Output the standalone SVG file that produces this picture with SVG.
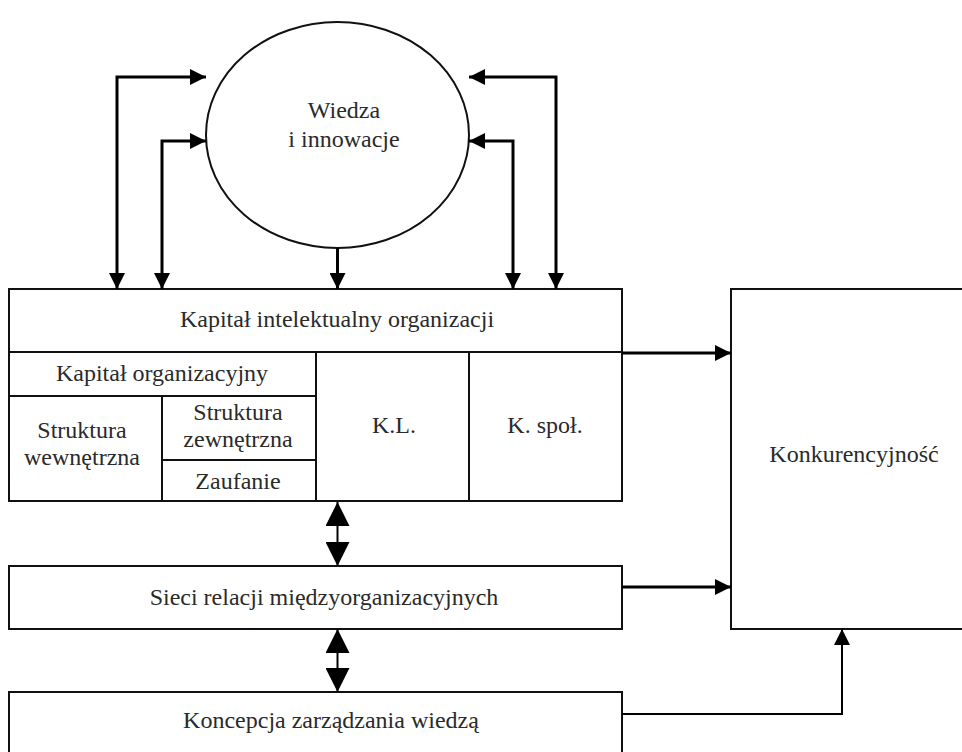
<svg xmlns="http://www.w3.org/2000/svg" width="962" height="752" viewBox="0 0 962 752">
<style>
.box{fill:#fff;stroke:#111;stroke-width:2}
.ln{fill:none;stroke:#111;stroke-width:2}
.t{font-family:"Liberation Serif","Times New Roman",serif;font-size:24px;fill:#2a2a2a;text-anchor:middle}
.c3{fill:none;stroke:#000;stroke-width:3}
.c2{fill:none;stroke:#000;stroke-width:2}
</style>
<defs>
<marker id="a" markerUnits="userSpaceOnUse" markerWidth="16" markerHeight="16" refX="16" refY="8" orient="auto-start-reverse" viewBox="0 0 16 16"><path d="M0,0 L16,8 L0,16 z" fill="#000"/></marker>
<marker id="b" markerUnits="userSpaceOnUse" markerWidth="24" markerHeight="24" refX="24" refY="12" orient="auto-start-reverse" viewBox="0 0 24 24"><path d="M0,0 L24,12 L0,24 z" fill="#000"/></marker>
</defs>
<rect width="962" height="752" fill="#fff"/>
<g id="wiedza">
<ellipse cx="337.5" cy="135" rx="131.5" ry="113" class="box"/>
<text class="t" x="344" y="118">Wiedza</text>
<text class="t" x="344" y="147">i innowacje</text>
</g>
<g id="kapital">
<rect x="9" y="289" width="613" height="212" class="box"/>
<path class="ln" d="M9,352 H622 M316,352 V501 M469,352 V501 M9,396 H316 M162,396 V501 M162,460 H316"/>
<text class="t" x="337" y="327">Kapitał intelektualny organizacji</text>
<text class="t" x="162" y="381">Kapitał organizacyjny</text>
<text class="t" x="82" y="438">Struktura</text>
<text class="t" x="82" y="465">wewnętrzna</text>
<text class="t" x="238" y="420">Struktura</text>
<text class="t" x="238" y="447">zewnętrzna</text>
<text class="t" x="238" y="489">Zaufanie</text>
<text class="t" x="394" y="433">K.L.</text>
<text class="t" x="545" y="433">K. społ.</text>
</g>
<g id="sieci">
<rect x="9" y="566" width="613" height="63" class="box"/>
<text class="t" x="324" y="605">Sieci relacji międzyorganizacyjnych</text>
</g>
<g id="koncepcja">
<rect x="9" y="692" width="613" height="80" class="box"/>
<text class="t" x="331" y="728">Koncepcja zarządzania wiedzą</text>
</g>
<g id="konkurencyjnosc">
<rect x="731" y="289" width="260" height="340" class="box"/>
<text class="t" x="854" y="462">Konkurencyjność</text>
</g>
<g id="connectors">
<path class="c3" d="M117,289 V77 H206" marker-start="url(#a)" marker-end="url(#a)"/>
<path class="c3" d="M162,289 V141 H206" marker-start="url(#a)" marker-end="url(#a)"/>
<path class="c3" d="M337.5,248 V289" marker-end="url(#a)"/>
<path class="c3" d="M513,289 V141 H469" marker-start="url(#a)" marker-end="url(#a)"/>
<path class="c3" d="M556,289 V77 H469" marker-start="url(#a)" marker-end="url(#a)"/>
<path class="c3" d="M622,353 H731" marker-end="url(#a)"/>
<path class="c3" d="M622,587 H731" marker-end="url(#a)"/>
<path class="c2" d="M337.5,502 V566" marker-start="url(#b)" marker-end="url(#b)"/>
<path class="c2" d="M337.5,629 V692" marker-start="url(#b)" marker-end="url(#b)"/>
<path class="c2" d="M622,714 H842 V629" marker-end="url(#a)"/>
</g>
</svg>
